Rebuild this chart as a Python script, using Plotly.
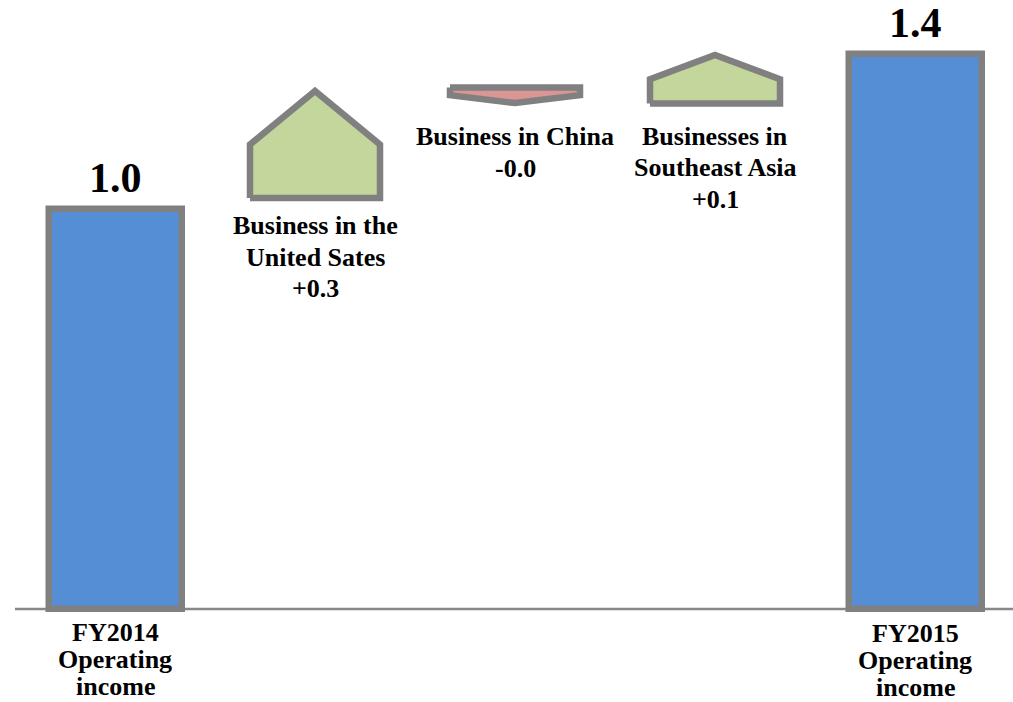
import plotly.graph_objects as go

# ---- data ----
categories = [
    "FY2014<br>Operating<br>income",
    "Business in the<br>United Sates",
    "Business in China",
    "Businesses in<br>Southeast Asia",
    "FY2015<br>Operating<br>income",
]
kinds = ["total", "step", "step", "step", "total"]
step_start = [0.0, 1.027, 1.303, 1.263, 0.0]
step_end = [1.0, 1.294, 1.264, 1.384, 1.387]
delta_labels = ["", "+0.3", "-0.0", "+0.1", ""]

# ---- styles ----
BLUE = "#558ED5"
GREEN = "#C3D69B"
RED = "#D99694"
EDGE = "#808080"
FONT = "Liberation Serif"
bar_w = 0.665
arrow_w = 0.65
head_frac = 0.5
# text placement (pixels): first-line offset below anchor, line spacing
label_first = [23, 28, 33, 33, 24]
label_step = [27, 31.5, 32, 31.5, 27]

fig = go.Figure()

tot_x = [i for i, k in enumerate(kinds) if k == "total"]
tot_y = [step_end[i] for i in tot_x]
fig.add_trace(go.Bar(
    x=tot_x, y=tot_y, width=bar_w,
    marker=dict(color=BLUE, line=dict(color=EDGE, width=6.5)),
    hoverinfo="skip", showlegend=False,
))

for i, k in enumerate(kinds):
    if k != "step":
        continue
    s, e = step_start[i], step_end[i]
    sh = s + (1 - head_frac) * (e - s)
    xl, xr = i - arrow_w / 2, i + arrow_w / 2
    fig.add_trace(go.Scatter(
        x=[xl, xl, i, xr, xr, xl],
        y=[s, sh, e, sh, s, s],
        mode="lines", fill="toself",
        fillcolor=GREEN if e > s else RED,
        line=dict(color=EDGE, width=6.5),
        hoverinfo="skip", showlegend=False,
    ))

# baseline axis
fig.add_shape(type="line", x0=-0.5, x1=5, y0=0, y1=0,
              line=dict(color="#888888", width=2.5), layer="below")

annotations = []
for i, k in enumerate(kinds):
    lines = categories[i].split("<br>")
    if k == "total":
        annotations.append(dict(
            x=i, y=step_end[i], text="<b>%.1f</b>" % step_end[i],
            showarrow=False, yanchor="middle", yshift=31,
            font=dict(family=FONT, size=42, color="black")))
        anchor = 0
    else:
        lines.append(delta_labels[i])
        anchor = min(step_start[i], step_end[i])
    for j, ln in enumerate(lines):
        annotations.append(dict(
            x=i, y=anchor, text="<b>%s</b>" % ln,
            showarrow=False, yanchor="middle",
            yshift=-(label_first[i] + j * label_step[i]),
            font=dict(family=FONT, size=26, color="black")))

fig.update_layout(
    width=1013, height=702,
    margin=dict(l=0, r=0, t=0, b=0),
    plot_bgcolor="white", paper_bgcolor="white",
    xaxis=dict(range=[-0.575, 4.49], visible=False, fixedrange=True),
    yaxis=dict(range=[-0.2323, 1.5214], visible=False, fixedrange=True),
    annotations=annotations,
    bargap=0,
)

fig.write_html("out.html")
